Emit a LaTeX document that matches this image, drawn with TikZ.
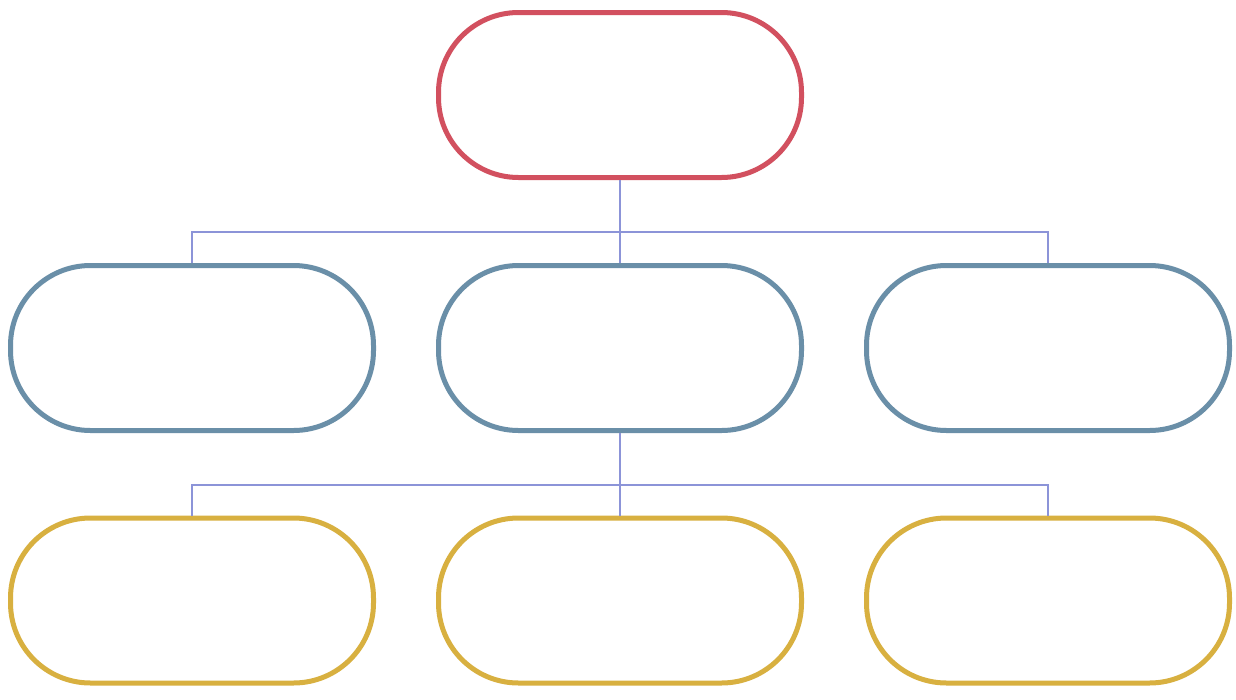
\documentclass[tikz,border=0pt]{standalone}
\definecolor{cred}{HTML}{D2505F}
\definecolor{cblue}{HTML}{6A8FA8}
\definecolor{cgold}{HTML}{D8B040}
\definecolor{cline}{HTML}{8C94D8}
\begin{document}
\begin{tikzpicture}[x=1pt,y=-1pt,
  pill/.style={draw, rectangle, rounded corners=80pt, line width=5pt,
    minimum width=363pt, minimum height=165pt, fill=white},
  redpill/.style={pill, draw=cred},
  bluepill/.style={pill, draw=cblue},
  goldpill/.style={pill, draw=cgold},
  conn/.style={draw=cline, line width=1.3pt}]
\useasboundingbox[fill=white] (0,0) rectangle (1236,699);
\node[redpill] (top) at (620,95) {};
\node[bluepill] (m1) at (192,348) {};
\node[bluepill] (m2) at (620,348) {};
\node[bluepill] (m3) at (1048,348) {};
\node[goldpill] (b1) at (192,600.5) {};
\node[goldpill] (b2) at (620,600.5) {};
\node[goldpill] (b3) at (1048,600.5) {};
\coordinate (j1) at (620,232);
\coordinate (j2) at (620,485);
\draw[conn] (top.south) -- (j1) -- (m2.north);
\draw[conn] (m1.north) |- (j1) -| (m3.north);
\draw[conn] (m2.south) -- (j2) -- (b2.north);
\draw[conn] (b1.north) |- (j2) -| (b3.north);
\end{tikzpicture}
\end{document}
